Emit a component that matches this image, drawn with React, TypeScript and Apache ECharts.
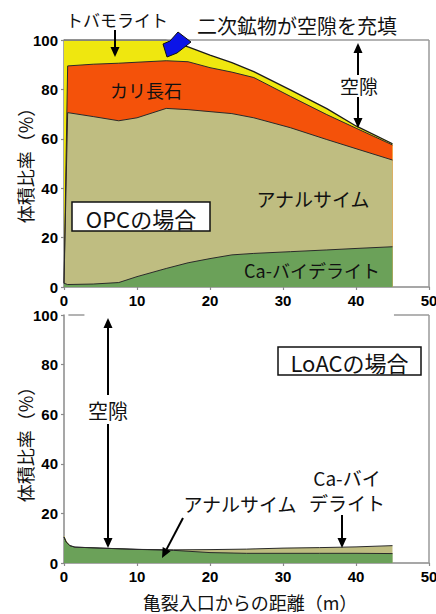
import React, { useEffect, useRef } from "react";
import * as echarts from "echarts";

// ---- OPC case (top panel) : cumulative upper boundary of each layer (%) ----
const opcX = [0, 0.5, 4, 7.5, 10, 14, 17, 20, 23, 26, 31, 36, 40, 45];
const opcCaBeidellite = [1.5, 1, 1.2, 1.8, 4.2, 7.5, 9.8, 11.5, 13, 13.6, 14.3, 15, 15.6, 16.3];
const opcAnalcime = [1.5, 70.6, 69, 67.3, 68.5, 72.3, 71.8, 71, 70.2, 68.5, 64.5, 59.7, 56, 51.4];
const opcKFeldspar = [1.5, 89.5, 90.2, 90.6, 91, 91.6, 91.2, 88.8, 87, 84.8, 77.2, 69.8, 64.3, 57.5];
const opcTobermorite = [100, 100, 100, 100, 100, 100, 97.2, 93.9, 90.8, 87.2, 79.8, 72.2, 65.2, 58];

// ---- LoAC case (bottom panel) ----
const loacX = [0, 0.3, 0.8, 1.5, 6, 10, 15, 20, 25, 30, 35, 40, 45];
const loacCaBeidellite = [10.5, 8.5, 7, 6.4, 5.9, 5.5, 5.1, 4.2, 3.9, 3.9, 3.9, 3.9, 3.8];
const loacAnalcime = [10.5, 8.5, 7, 6.4, 5.9, 5.5, 5.3, 5.4, 5.6, 6.0, 6.2, 6.5, 7.0];
const loacTobermoriteX = [0, 0.4, 1.0];
const loacTobermorite = [11, 8.5, 6.5];

const xTicks = { min: 0, max: 50, interval: 10 };
const yTicks = { min: 0, max: 100, interval: 20 };

const YELLOW = "#EFE70F";
const ORANGE = "#F4520A";
const KHAKI = "#BFBD81";
const GREEN = "#6BA159";
const AXIS_GRAY = "#8a8a8a";
const JP = "'Noto Sans CJK JP', 'Noto Sans', sans-serif";
const ZTOP = 100;

function pairs(xs: number[], ys: number[]) {
  return xs.map((x, i) => [x, ys[i]]);
}

function areaSeries(name: string, xi: number, data: number[][], color: string, extra: any = {}) {
  return {
    name,
    type: "line",
    xAxisIndex: xi,
    yAxisIndex: xi,
    data,
    showSymbol: false,
    symbol: "none",
    smooth: false,
    silent: true,
    lineStyle: { color: "#2a2a2a", width: 1 },
    areaStyle: { color, opacity: 1 },
    ...extra,
  };
}

function arrow(x1: number, y1: number, x2: number, y2: number) {
  const dx = x2 - x1;
  const dy = y2 - y1;
  const len = Math.sqrt(dx * dx + dy * dy);
  const ux = dx / len;
  const uy = dy / len;
  const hl = 10;
  const hw = 4.5;
  const bx = x2 - ux * hl;
  const by = y2 - uy * hl;
  return [
    {
      type: "line",
      z: ZTOP,
      shape: { x1, y1, x2: bx, y2: by },
      style: { stroke: "#000", lineWidth: 2 },
      silent: true,
    },
    {
      type: "polygon",
      z: ZTOP,
      shape: {
        points: [
          [x2, y2],
          [bx - uy * hw, by + ux * hw],
          [bx + uy * hw, by - ux * hw],
        ],
      },
      style: { fill: "#000" },
      silent: true,
    },
  ];
}

function label(text: string, x: number, y: number, size: number, align = "center", z = ZTOP, rotation = 0) {
  return {
    type: "text",
    x,
    y,
    z,
    rotation,
    silent: true,
    style: {
      text,
      fill: "#111",
      font: `${size}px ${JP}`,
      align,
      verticalAlign: "middle",
    },
  };
}

function boxLabel(text: string, x: number, y: number, w: number, h: number) {
  return [
    {
      type: "rect",
      z: ZTOP,
      shape: { x, y, width: w, height: h },
      style: { fill: "#fff", stroke: "#111", lineWidth: 1.5 },
      silent: true,
    },
    label(text, x + w / 2, y + h / 2 + 1, 22, "center", ZTOP + 1),
  ];
}

function frameLine(xi: number, segs: number[][][]) {
  return {
    type: "line",
    xAxisIndex: xi,
    yAxisIndex: xi,
    data: [],
    silent: true,
    markLine: {
      silent: true,
      symbol: ["none", "none"],
      label: { show: false },
      lineStyle: { color: "#9a9a9a", width: 1.5, type: "solid" },
      emphasis: { disabled: true },
      data: segs.map((s) => [{ coord: s[0] }, { coord: s[1] }]),
    },
  };
}

function axisCommon() {
  return {
    axisLine: { show: true, lineStyle: { color: AXIS_GRAY, width: 1.5 } },
    axisTick: { show: true, length: 3, lineStyle: { color: AXIS_GRAY, width: 1.2 } },
    splitLine: { show: false },
    axisLabel: {
      color: "#000",
      fontFamily: "'Liberation Sans', Arial, sans-serif",
      fontWeight: "bold",
      fontSize: 15,
      margin: 6,
    },
  };
}

export default function App() {
  const ref = useRef<HTMLDivElement>(null);
  useEffect(() => {
    if (!ref.current) return;
    const chart = echarts.init(ref.current, undefined, { renderer: "svg" });
    const yName = "体積比率（%）";
    const option: any = {
      animation: false,
      backgroundColor: "#fff",
      grid: [
        { left: 64, right: 7, top: 40, height: 247, outerBoundsMode: "none", containLabel: false },
        { left: 64, right: 7, top: 315, height: 248, outerBoundsMode: "none", containLabel: false },
      ],
      xAxis: [
        { type: "value", gridIndex: 0, ...xTicks, ...axisCommon() },
        { type: "value", gridIndex: 1, ...xTicks, ...axisCommon() },
      ],
      yAxis: [
        { type: "value", gridIndex: 0, ...yTicks, ...axisCommon() },
        { type: "value", gridIndex: 1, ...yTicks, ...axisCommon() },
      ],
      series: [
        frameLine(0, [
          [[0, 100], [50, 100]],
          [[50, 100], [50, 0]],
        ]),
        areaSeries("トバモライト", 0, pairs(opcX, opcTobermorite), YELLOW, {
          lineStyle: { color: "#1a1a1a", width: 1.3 },
        }),
        areaSeries("カリ長石", 0, pairs(opcX, opcKFeldspar), ORANGE),
        areaSeries("アナルサイム", 0, pairs(opcX, opcAnalcime), KHAKI),
        areaSeries("Ca-バイデライト", 0, pairs(opcX, opcCaBeidellite), GREEN),
        frameLine(1, [
          [[0.6, 100], [2.8, 100]],
          [[45.2, 100], [50, 100]],
          [[50, 100], [50, 0]],
        ]),
        areaSeries("トバモライト(LoAC)", 1, pairs(loacTobermoriteX, loacTobermorite), YELLOW, {
          lineStyle: { width: 0 },
        }),
        areaSeries("アナルサイム(LoAC)", 1, pairs(loacX, loacAnalcime), KHAKI),
        areaSeries("Ca-バイデライト(LoAC)", 1, pairs(loacX, loacCaBeidellite), GREEN),
      ],
      graphic: [
        // axis names
        label(yName, 25, 161, 18, "center", ZTOP, Math.PI / 2),
        label(yName, 25, 440, 18, "center", ZTOP, Math.PI / 2),
        label("亀裂入口からの距離（m）", 250, 602, 18),
        // top panel annotations
        label("トバモライト", 117, 19, 17),
        ...arrow(115, 30, 115, 57),
        label("二次鉱物が空隙を充填", 197, 25, 20, "left"),
        {
          type: "polygon",
          z: ZTOP,
          shape: {
            points: [
              [178, 32],
              [191, 42],
              [177, 53],
              [167, 57],
              [163, 44],
              [170, 41],
            ],
          },
          style: { fill: "#0b14e8", stroke: "#111", lineWidth: 1 },
          silent: true,
        },
        label("空隙", 359, 85, 19),
        ...arrow(358, 75, 358, 43),
        ...arrow(358, 97, 358, 128),
        label("カリ長石", 146, 90, 18),
        label("アナルサイム", 313, 198, 19),
        ...boxLabel("OPCの場合", 72, 202, 138, 29),
        label("Ca-バイデライト", 312, 270, 18),
        // bottom panel annotations
        ...boxLabel("LoACの場合", 278, 347, 143, 28),
        label("空隙", 108, 410, 20),
        ...arrow(108, 395, 108, 318),
        ...arrow(108, 424, 108, 548),
        label("アナルサイム", 240, 503, 19),
        ...arrow(183, 518, 162, 558),
        label("Ca-バイ", 347, 477, 19),
        label("デライト", 347, 502, 19),
        ...arrow(342, 515, 342, 548),
      ],
    };
    chart.setOption(option);
    return () => chart.dispose();
  }, []);
  return (
    <div
      ref={ref}
      style={{ position: "fixed", left: 0, top: 0, width: 436, height: 614, background: "#fff" }}
    />
  );
}
